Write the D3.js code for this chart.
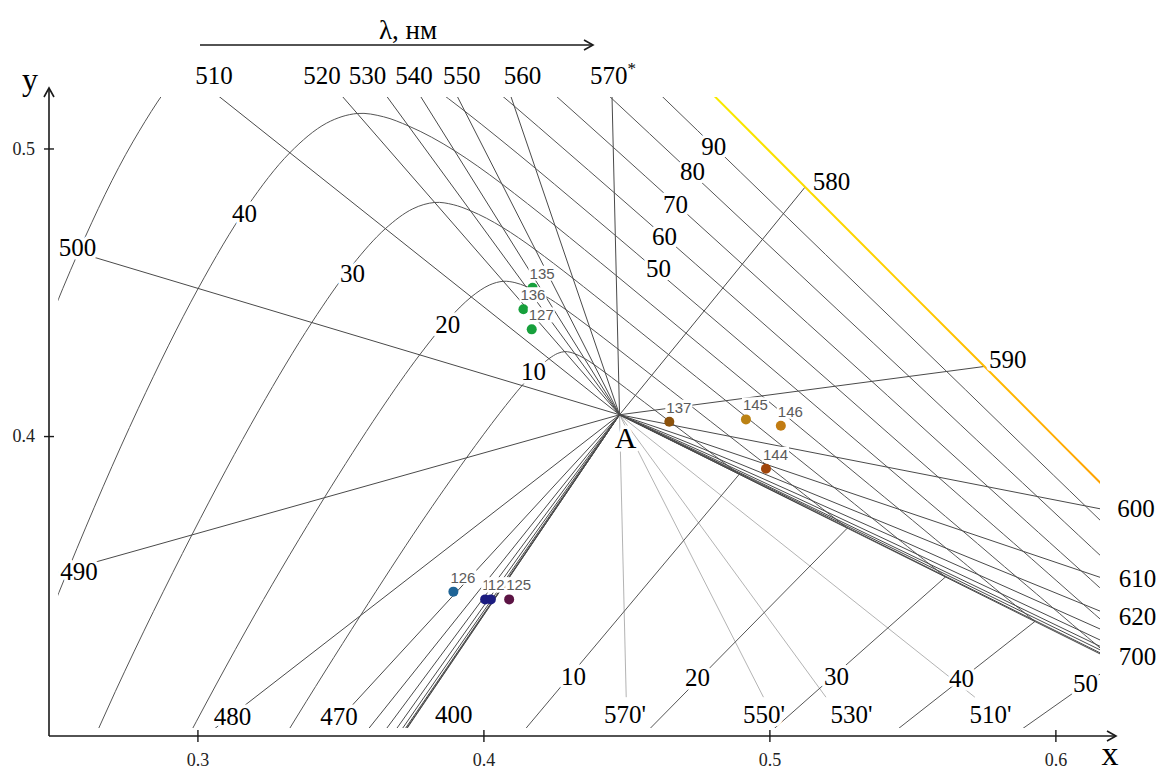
<!DOCTYPE html>
<html>
<head>
<meta charset="utf-8">
<script src="https://cdn.jsdelivr.net/npm/d3@7"></script>
<style>
  body { margin: 0; background: #fff; }
  svg { font-family: "Liberation Serif", "Times New Roman", serif; }
</style>
</head>
<body>
<svg id="chart" width="1161" height="771"></svg>
<script>
// Chromaticity diagram (CIE 1931 x,y) around illuminant A,
// with dominant wavelength spokes and colorimetric purity contours.

// white point
var whiteA = { x: 0.4476, y: 0.4074 };

// spectral locus, CIE 1931 2 deg
var locusNm = [400, 410, 420, 430, 440, 450, 460, 470, 475, 480, 485, 490, 495, 500, 505,
  510, 515, 520, 525, 530, 535, 540, 545, 550, 555, 560, 565, 570, 575, 580, 585, 590, 595,
  600, 605, 610, 615, 620, 625, 630, 640, 650, 660, 680, 700];
var locusX = [0.1733, 0.1726, 0.1714, 0.1689, 0.1644, 0.1566, 0.1440, 0.1241, 0.1096, 0.0913, 0.0687, 0.0454, 0.0235, 0.0082, 0.0039,
  0.0139, 0.0389, 0.0743, 0.1142, 0.1547, 0.1929, 0.2296, 0.2658, 0.3016, 0.3373, 0.3731, 0.4087, 0.4441, 0.4788, 0.5125, 0.5448, 0.5752, 0.6029,
  0.6270, 0.6482, 0.6658, 0.6801, 0.6915, 0.7006, 0.7079, 0.7190, 0.7260, 0.7300, 0.7334, 0.7347];
var locusY = [0.0048, 0.0048, 0.0051, 0.0069, 0.0109, 0.0177, 0.0297, 0.0578, 0.0868, 0.1327, 0.2007, 0.2950, 0.4127, 0.5384, 0.6548,
  0.7502, 0.8120, 0.8338, 0.8262, 0.8059, 0.7816, 0.7543, 0.7243, 0.6923, 0.6589, 0.6245, 0.5896, 0.5547, 0.5202, 0.4866, 0.4544, 0.4242, 0.3965,
  0.3725, 0.3514, 0.3340, 0.3197, 0.3083, 0.2993, 0.2920, 0.2809, 0.2740, 0.2700, 0.2666, 0.2653];

// drawn spokes
var spokeNm = [400, 410, 420, 430, 440, 450, 460, 470, 480, 490, 500, 510, 520, 530, 540, 550, 560, 570,
  580, 590, 600, 610, 620, 630, 640, 650, 660, 680, 700];
var complementNm = [570, 550, 530, 510];
var complementEndY = 0.3092;

// purity levels, %
var purityLevels = [10, 20, 30, 40, 50, 60, 70, 80, 90];

// wavelength labels (anchor = text centre / baseline, chart units)
var waveLabels = ["510", "520", "530", "540", "550", "560", "570", "580", "590", "600", "610", "620", "700",
  "500", "490", "480", "470", "400", "570'", "550'", "530'", "510'"];
var waveLabelX = [0.3058, 0.3436, 0.3595, 0.3757, 0.3924, 0.4137, 0.4453, 0.5217, 0.5833, 0.6282, 0.6287, 0.6287, 0.6287,
  0.2581, 0.2586, 0.3123, 0.3495, 0.3896, 0.4495, 0.4981, 0.5287, 0.5773];
var waveLabelY = [0.5224, 0.5224, 0.5224, 0.5224, 0.5224, 0.5224, 0.5224, 0.4855, 0.4235, 0.3718, 0.3476, 0.3343, 0.3204,
  0.4626, 0.3499, 0.2995, 0.2995, 0.3002, 0.3002, 0.3002, 0.3002, 0.3002];

// purity labels on the spectral contours and on the purple side
var purityLabelX = [0.4175, 0.3875, 0.3542, 0.3165, 0.4612, 0.4633, 0.4672, 0.4731, 0.4805];
var purityLabelY = [0.4195, 0.4357, 0.4537, 0.4746, 0.4554, 0.4664, 0.4774, 0.4890, 0.4977];
var purpleLabels = ["10", "20", "30", "40", "50"];
var purpleLabelX = [0.4315, 0.4749, 0.5235, 0.5672, 0.6105];
var purpleLabelY = [0.3134, 0.3132, 0.3134, 0.3128, 0.3111];

// measured samples
var sampleIds = ["135", "136", "127", "126", "123", "124", "125", "137", "145", "146", "144"];
var sampleX = [0.4172, 0.4140, 0.4169, 0.3895, 0.4006, 0.4026, 0.4090, 0.4650, 0.4918, 0.5040, 0.4988];
var sampleY = [0.4516, 0.4441, 0.4371, 0.3459, 0.3432, 0.3432, 0.3432, 0.4050, 0.4058, 0.4036, 0.3886];
var sampleColors = ["#17a03c", "#17a03c", "#17a03c", "#1f6496", "#1c1c80", "#1c1c80", "#5c1444",
  "#8c520c", "#bb8214", "#c27c12", "#a0460c"];

var svg = d3.select("#chart");

var x = d3.scaleLinear().domain([0.2481, 0.6156]).range([49, 1100]);
var y = d3.scaleLinear().domain([0.2957, 0.5179]).range([736, 97]);

var plotLeft = 0.2513, plotBottom = 0.2985;

var defs = svg.append("defs");
defs.append("clipPath").attr("id", "plotClip").append("rect")
  .attr("x", x(plotLeft)).attr("y", y.range()[1])
  .attr("width", x.range()[1] - x(plotLeft))
  .attr("height", y(plotBottom) - y.range()[1]);

var grad = defs.append("linearGradient").attr("id", "locusGrad")
  .attr("gradientUnits", "userSpaceOnUse")
  .attr("x1", x(0.480)).attr("y1", y(0.518))
  .attr("x2", x(0.6156)).attr("y2", y(0.383));
grad.append("stop").attr("offset", 0).attr("stop-color", "#f8ea00");
grad.append("stop").attr("offset", 0.5).attr("stop-color", "#ffcc00");
grad.append("stop").attr("offset", 1).attr("stop-color", "#ffa200");

function idx(nm) { return locusNm.indexOf(nm); }

// point of given colorimetric purity on the spoke to locus point i
function purityPoint(pc, i) {
  var yl = locusY[i];
  var pe = pc * whiteA.y / (yl * (1 - pc) + pc * whiteA.y);
  return [whiteA.x + pe * (locusX[i] - whiteA.x), whiteA.y + pe * (yl - whiteA.y)];
}

var plot = svg.append("g").attr("clip-path", "url(#plotClip)");

// complementary spokes (purple region)
plot.selectAll("line.comp").data(complementNm).enter().append("line")
  .attr("class", "comp")
  .attr("x1", x(whiteA.x)).attr("y1", y(whiteA.y))
  .attr("x2", function (d) {
    var i = idx(d), t = (whiteA.y - complementEndY) / (locusY[i] - whiteA.y);
    return x(whiteA.x - t * (locusX[i] - whiteA.x));
  })
  .attr("y2", y(complementEndY))
  .attr("stroke", "#a0a0a0").attr("stroke-width", 0.8);

// purity contours
var contour = d3.line().x(function (d) { return x(d[0]); }).y(function (d) { return y(d[1]); })
  .curve(d3.curveCatmullRom.alpha(0.5));

purityLevels.forEach(function (p) {
  var pc = p / 100;
  var pts = locusNm.map(function (nm, i) { return purityPoint(pc, i); });
  plot.append("path").attr("d", contour(pts))
    .attr("fill", "none").attr("stroke", "#555").attr("stroke-width", 1);
  var a = purityPoint(pc, idx(700)), b = purityPoint(pc, idx(400));
  plot.append("line")
    .attr("x1", x(a[0])).attr("y1", y(a[1])).attr("x2", x(b[0])).attr("y2", y(b[1]))
    .attr("stroke", "#555").attr("stroke-width", 1);
});

// dominant wavelength spokes
plot.selectAll("line.spoke").data(spokeNm).enter().append("line")
  .attr("class", "spoke")
  .attr("x1", x(whiteA.x)).attr("y1", y(whiteA.y))
  .attr("x2", function (d) { return x(locusX[idx(d)]); })
  .attr("y2", function (d) { return y(locusY[idx(d)]); })
  .attr("stroke", "#4a4a4a").attr("stroke-width", 1);

// spectral locus (yellow-orange part)
var locusPts = locusNm.map(function (nm, i) { return [locusX[i], locusY[i]]; })
  .filter(function (d, i) { return locusNm[i] >= 560 && locusNm[i] <= 620; });
plot.append("path").attr("d", contour(locusPts))
  .attr("fill", "none").attr("stroke", "url(#locusGrad)").attr("stroke-width", 2);

// labels with white halo
function halo(sel) {
  return sel.attr("stroke", "#fff").attr("stroke-width", 7)
    .attr("stroke-linejoin", "round").attr("paint-order", "stroke").attr("fill", "#000");
}

var labG = svg.append("g").attr("font-size", 25).attr("text-anchor", "middle");
waveLabels.forEach(function (t, i) {
  var tx = labG.append("text").attr("x", x(waveLabelX[i])).attr("y", y(waveLabelY[i])).call(halo);
  if (t === "570") {
    tx.text("570");
    tx.append("tspan").attr("font-size", 17).attr("dy", -10).text("*");
  } else {
    tx.text(t);
  }
});
purityLevels.forEach(function (p, i) {
  labG.append("text").attr("x", x(purityLabelX[i])).attr("y", y(purityLabelY[i])).text(p).call(halo);
});
purpleLabels.forEach(function (t, i) {
  labG.append("text").attr("x", x(purpleLabelX[i])).attr("y", y(purpleLabelY[i])).text(t).call(halo);
});

svg.append("text").attr("x", x(whiteA.x) + 6).attr("y", y(whiteA.y) + 33)
  .attr("text-anchor", "middle").attr("font-size", 30).text("A").call(halo);

// axes
var axisCol = "#1a1a1a";
var xAxis = d3.axisBottom(x).tickValues([0.3, 0.4, 0.5, 0.6]).tickFormat(d3.format(".1f"))
  .tickSizeInner(12).tickSizeOuter(0).tickPadding(11);
var gx = svg.append("g").attr("transform", "translate(0," + (y.range()[0] - 6) + ")").call(xAxis);
gx.select(".domain").remove();

var yAxis = d3.axisLeft(y).tickValues([0.4, 0.5]).tickFormat(d3.format(".1f"))
  .tickSizeInner(10).tickSizeOuter(0).tickPadding(9);
var gy = svg.append("g").attr("transform", "translate(" + (x.range()[0] + 5) + ",0)").call(yAxis);
gy.select(".domain").remove();

[gx, gy].forEach(function (g) {
  g.attr("font-family", null);
  g.selectAll("line").attr("stroke", axisCol).attr("stroke-width", 1.4);
  g.selectAll("text").style("font-family", "'Liberation Serif', serif").attr("font-size", 18).attr("fill", "#222");
});

var ax = svg.append("g").attr("stroke", axisCol).attr("stroke-width", 1.6).attr("fill", "none");
var x0 = x.range()[0], y0 = y.range()[0], xEnd = x.range()[1] + 16, yEnd = y.range()[1] - 9;
ax.append("line").attr("x1", x0).attr("y1", y0).attr("x2", xEnd).attr("y2", y0);
ax.append("line").attr("x1", x0).attr("y1", y0).attr("x2", x0).attr("y2", yEnd);
ax.append("path").attr("d", "M" + (xEnd - 9) + "," + (y0 - 5) + "L" + xEnd + "," + y0 + "L" + (xEnd - 9) + "," + (y0 + 5));
ax.append("path").attr("d", "M" + (x0 - 5) + "," + (yEnd + 9) + "L" + x0 + "," + yEnd + "L" + (x0 + 5) + "," + (yEnd + 9));

svg.append("text").attr("x", xEnd - 6).attr("y", y0 + 29).attr("text-anchor", "middle")
  .attr("font-size", 34).text("x");
svg.append("text").attr("x", x0 - 19).attr("y", yEnd + 2).attr("text-anchor", "middle")
  .attr("font-size", 32).text("y");

// wavelength arrow on top
var lam = svg.append("g");
lam.append("line").attr("x1", 200).attr("y1", 45).attr("x2", 593).attr("y2", 45)
  .attr("stroke", axisCol).attr("stroke-width", 1.6);
lam.append("path").attr("d", "M584,40L593,45L584,50").attr("fill", "none")
  .attr("stroke", axisCol).attr("stroke-width", 1.6);
lam.append("text").attr("x", 408).attr("y", 39).attr("text-anchor", "middle")
  .attr("font-size", 27).text("λ, нм");

// samples
svg.append("g").selectAll("circle").data(sampleIds).enter().append("circle")
  .attr("cx", function (d, i) { return x(sampleX[i]); })
  .attr("cy", function (d, i) { return y(sampleY[i]); })
  .attr("r", 5)
  .attr("fill", function (d, i) { return sampleColors[i]; });

var tags = svg.append("g").attr("font-size", 15).attr("fill", "#5a5a5a")
  .style("font-family", "'Liberation Sans', Arial, sans-serif");
sampleIds.forEach(function (id, i) {
  var g = tags.append("g");
  var t = g.append("text")
    .attr("x", x(sampleX[i]) - 3).attr("y", y(sampleY[i]) - 9).text(id);
  var b = t.node().getBBox();
  g.insert("rect", "text").attr("x", b.x - 1).attr("y", b.y + 1)
    .attr("width", b.width + 2).attr("height", b.height - 2).attr("fill", "#fff");
});
</script>
</body>
</html>
